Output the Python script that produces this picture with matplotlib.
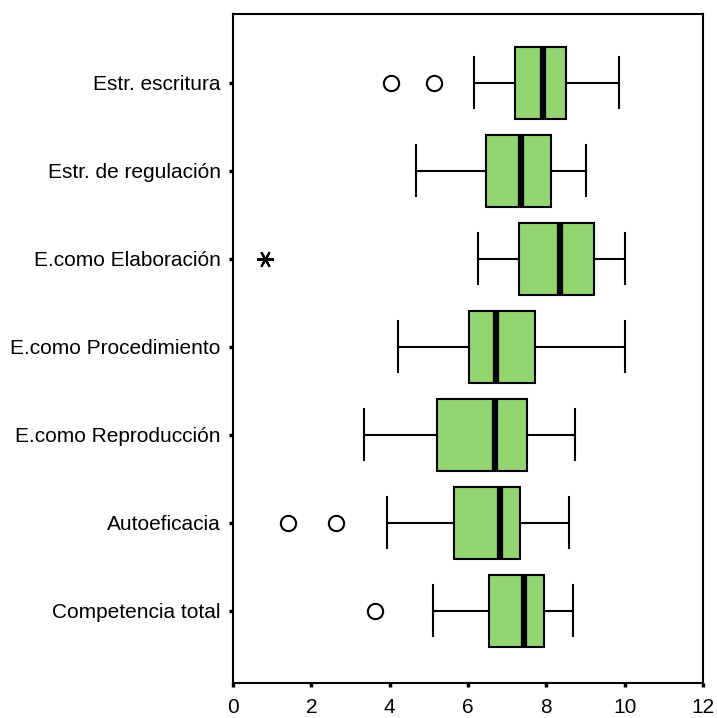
import matplotlib.pyplot as plt

# Categories, listed top to bottom
labels = ["Estr. escritura", "Estr. de regulación", "E.como Elaboración",
          "E.como Procedimiento", "E.como Reproducción", "Autoeficacia",
          "Competencia total"]

# Box statistics
whisker_low = [6.15, 4.66, 6.25, 4.20, 3.34, 3.94, 5.11]
q1 = [7.21, 6.45, 7.31, 6.03, 5.22, 5.63, 6.54]
median = [7.92, 7.36, 8.34, 6.71, 6.70, 6.81, 7.42]
q3 = [8.49, 8.13, 9.21, 7.72, 7.51, 7.32, 7.93]
whisker_high = [9.86, 9.00, 10.02, 10.02, 8.74, 8.59, 8.69]

# Outliers (circles) and extreme values (stars)
outliers = [[4.03, 5.14], [], [], [], [], [1.41, 2.63], [3.63]]
extremes = [[], [], [0.82], [], [], [], []]

green = "#93d572"

fig = plt.figure(figsize=(7.17, 7.18), dpi=100)
ax = fig.add_axes([233 / 717, 1 - 683 / 718, 470 / 717, 669 / 718])

n = len(labels)
positions = [n - i for i in range(n)]

stats = []
for i in range(n):
    stats.append({
        "whislo": whisker_low[i], "q1": q1[i], "med": median[i],
        "q3": q3[i], "whishi": whisker_high[i], "fliers": outliers[i],
    })

ax.bxp(stats, positions=positions, vert=False, widths=0.82, capwidths=0.58,
       patch_artist=True,
       boxprops=dict(facecolor=green, edgecolor="black", linewidth=1.5),
       medianprops=dict(color="black", linewidth=4.5, solid_capstyle="butt"),
       whiskerprops=dict(color="black", linewidth=1.5),
       capprops=dict(color="black", linewidth=1.5),
       flierprops=dict(marker="o", markersize=11, markerfacecolor="white",
                       markeredgecolor="black", markeredgewidth=1.5))

for pos, vals in zip(positions, extremes):
    if vals:
        ax.plot(vals, [pos] * len(vals), linestyle="none", marker=(6, 2, 90),
                markersize=12, color="black", markeredgewidth=1.5)

ax.set_xlim(0, 12)
ax.set_ylim(0.18, 7.78)
ax.set_xticks(range(0, 13, 2))
ax.set_yticks(positions)
ax.set_yticklabels(labels)

for s in ax.spines.values():
    s.set_linewidth(1.5)
    s.set_color("black")

ax.tick_params(axis="both", direction="out", length=3, width=2.5,
               labelsize=15, colors="black")
ax.tick_params(axis="y", pad=6)
ax.tick_params(axis="x", pad=8)

for t in ax.get_xticklabels() + ax.get_yticklabels():
    t.set_fontfamily("Liberation Sans")

fig.savefig("out.png", dpi=100)
